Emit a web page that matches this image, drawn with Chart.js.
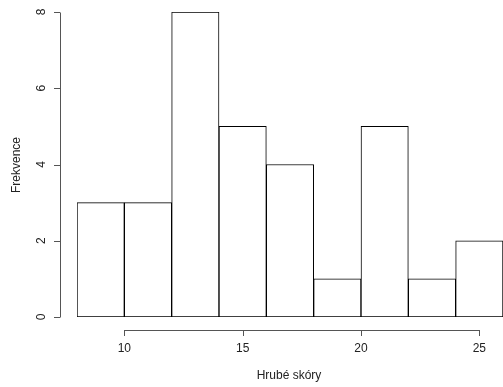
<!DOCTYPE html>
<html>
<head>
<meta charset="utf-8">
<script src="https://cdn.jsdelivr.net/npm/chart.js@4"></script>
<style>
  html, body { margin: 0; padding: 0; background: #fff; }
  #wrap { width: 503px; height: 387px; }
</style>
</head>
<body>
<div id="wrap"><canvas id="histchart"></canvas></div>
<script>
// histogram bins (left edges, width 2) and counts
const binStarts = [8, 10, 12, 14, 16, 18, 20, 22, 24];
const binWidth = 2;
const counts = [3, 3, 8, 5, 4, 1, 5, 1, 2];
const xTicks = [10, 15, 20, 25];
const yTicks = [0, 2, 4, 6, 8];
const xTitle = 'Hrubé skóry';
const yTitle = 'Frekvence';

const points = binStarts.map((s, i) => ({ x: s + binWidth / 2, y: counts[i] }));

// R style axes, drawn detached from the plot region
const rAxes = {
    id: 'rAxes',
    afterDraw(chart) {
        const ctx = chart.ctx;
        const xs = chart.scales.x;
        const ys = chart.scales.y;
        const axisX = 60;
        const axisY = 330;
        ctx.save();
        ctx.strokeStyle = '#555';
        ctx.lineWidth = 1;
        ctx.fillStyle = '#222';
        ctx.font = '12px "Liberation Sans", Arial, sans-serif';

        // x axis
        const x0 = Math.round(xs.getPixelForValue(xTicks[0])) + 0.5;
        const x1 = Math.round(xs.getPixelForValue(xTicks[xTicks.length - 1])) + 0.5;
        ctx.beginPath();
        ctx.moveTo(x0, axisY + 0.5);
        ctx.lineTo(x1, axisY + 0.5);
        xTicks.forEach(t => {
            const px = Math.round(xs.getPixelForValue(t)) + 0.5;
            ctx.moveTo(px, axisY);
            ctx.lineTo(px, axisY + 6);
        });
        ctx.stroke();
        ctx.textAlign = 'center';
        ctx.textBaseline = 'middle';
        xTicks.forEach(t => {
            ctx.fillText(String(t), xs.getPixelForValue(t), 349);
        });
        ctx.fillText(xTitle, 289, 376);

        // y axis
        const y0 = Math.round(ys.getPixelForValue(yTicks[0])) + 0.5;
        const y1 = Math.round(ys.getPixelForValue(yTicks[yTicks.length - 1])) + 0.5;
        ctx.beginPath();
        ctx.moveTo(axisX + 0.5, y0);
        ctx.lineTo(axisX + 0.5, y1);
        yTicks.forEach(t => {
            const py = Math.round(ys.getPixelForValue(t)) + 0.5;
            ctx.moveTo(axisX, py);
            ctx.lineTo(axisX - 6, py);
        });
        ctx.stroke();
        yTicks.forEach(t => {
            ctx.save();
            ctx.translate(42, ys.getPixelForValue(t));
            ctx.rotate(-Math.PI / 2);
            ctx.fillText(String(t), 0, 0);
            ctx.restore();
        });
        ctx.save();
        ctx.translate(17, 165);
        ctx.rotate(-Math.PI / 2);
        ctx.fillText(yTitle, 0, 0);
        ctx.restore();

        ctx.restore();
    }
};

new Chart(document.getElementById('histchart'), {
    type: 'bar',
    data: {
        datasets: [{
            data: points,
            backgroundColor: '#fff',
            borderColor: '#000',
            borderWidth: 1,
            borderSkipped: false,
            barPercentage: 1,
            categoryPercentage: 1
        }]
    },
    options: {
        responsive: true,
        maintainAspectRatio: false,
        animation: false,
        layout: {
            padding: { left: 77, right: 0, top: 12, bottom: 70 }
        },
        scales: {
            x: {
                type: 'linear',
                min: 8,
                max: 26,
                offset: false,
                display: false
            },
            y: {
                min: 0,
                max: 8,
                display: false
            }
        },
        plugins: {
            legend: { display: false },
            tooltip: { enabled: false }
        }
    },
    plugins: [rAxes]
});
</script>
</body>
</html>
